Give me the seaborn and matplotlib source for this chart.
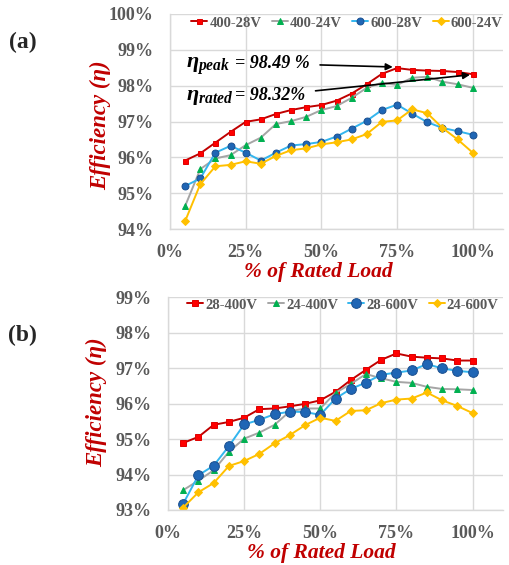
import matplotlib
matplotlib.use("Agg")
import matplotlib.pyplot as plt
import seaborn as sns
import numpy as np

# ---------------- data ----------------
load_pct = [5, 10, 15, 20, 25, 30, 35, 40, 45, 50, 55, 60, 65, 70, 75, 80, 85, 90, 95, 100]

# panel (a)
eff_a_400_28V = [95.91, 96.11, 96.41, 96.71, 96.99, 97.06, 97.21, 97.32, 97.40, 97.46,
                 97.58, 97.78, 98.04, 98.33, 98.49, 98.44, 98.42, 98.41, 98.38, 98.32]
eff_a_400_24V = [94.64, 95.67, 95.97, 96.06, 96.34, 96.55, 96.93, 97.01, 97.13, 97.32,
                 97.43, 97.66, 97.94, 98.08, 98.02, 98.22, 98.25, 98.11, 98.04, 97.94]
eff_a_600_28V = [95.20, 95.41, 96.13, 96.32, 96.13, 95.91, 96.13, 96.33, 96.37, 96.43,
                 96.58, 96.80, 97.02, 97.32, 97.47, 97.22, 96.98, 96.82, 96.73, 96.63]
eff_a_600_24V = [94.22, 95.25, 95.75, 95.79, 95.89, 95.82, 96.04, 96.20, 96.25, 96.36,
                 96.42, 96.50, 96.65, 96.99, 97.03, 97.34, 97.23, 96.82, 96.50, 96.13]
labels_a = ["400-28V", "400-24V", "600-28V", "600-24V"]

# panel (b)
eff_b_28_400V = [94.89, 95.06, 95.40, 95.48, 95.60, 95.84, 95.86, 95.92, 95.99, 96.09,
                 96.33, 96.66, 96.95, 97.23, 97.41, 97.32, 97.29, 97.27, 97.21, 97.21]
eff_b_24_400V = [93.56, 93.83, 94.12, 94.64, 95.01, 95.18, 95.40, 95.78, 95.86, 95.86,
                 96.30, 96.55, 96.83, 96.71, 96.61, 96.58, 96.47, 96.41, 96.40, 96.38]
eff_b_28_600V = [93.18, 93.98, 94.25, 94.80, 95.41, 95.54, 95.70, 95.77, 95.76, 95.68,
                 96.14, 96.41, 96.59, 96.81, 96.87, 96.93, 97.11, 96.99, 96.92, 96.88]
eff_b_24_600V = [93.07, 93.50, 93.76, 94.24, 94.38, 94.58, 94.88, 95.11, 95.39, 95.60,
                 95.51, 95.79, 95.81, 96.01, 96.11, 96.14, 96.31, 96.09, 95.93, 95.73]
labels_b = ["28-400V", "24-400V", "28-600V", "24-600V"]

x_ticks = [0, 25, 50, 75, 100]
y_ticks_a = [94, 95, 96, 97, 98, 99, 100]
y_ticks_b = [93, 94, 95, 96, 97, 98, 99]

eta_peak = 98.49
eta_rated = 98.32

# ---------------- style ----------------
sns.set_style("white")
plt.rcParams["font.family"] = ["Liberation Serif", "DejaVu Serif"]
plt.rcParams["mathtext.fontset"] = "custom"
plt.rcParams["mathtext.it"] = "Liberation Serif:italic:bold"
plt.rcParams["mathtext.rm"] = "Liberation Serif:bold"
plt.rcParams["mathtext.bf"] = "Liberation Serif:bold"

TICK_C = "#595959"
LABEL_C = "#C00000"
GRID_C = "#D9D9D9"

styles = [
    dict(color="#C00000", marker="s", markerfacecolor="#FF0000", markeredgecolor="#E00000"),
    dict(color="#A5A5A5", marker="^", markerfacecolor="#00B050", markeredgecolor="#00B050"),
    dict(color="#33B5EE", marker="o", markerfacecolor="#1F66B5", markeredgecolor="#1A4F8F"),
    dict(color="#FFC000", marker="D", markerfacecolor="#FFC000", markeredgecolor="#FFC000"),
]

W, H = 510, 565
fig = plt.figure(figsize=(W / 100, H / 100), dpi=100)

def px_axes(left, top, right, bottom):
    return fig.add_axes([left / W, 1 - bottom / H, (right - left) / W, (bottom - top) / H])

ax_a = px_axes(170, 14, 503, 229)
ax_b = px_axes(168, 297, 503, 510)


def draw(ax, series, labels, yticks, msizes):
    for vals, lab, st, ms in zip(series, labels, styles, msizes):
        sns.lineplot(x=load_pct, y=vals, ax=ax, linewidth=1.4, markersize=ms,
                     markeredgewidth=0.7, label=lab, **st)
    ax.set_xlim(0, 110)
    ax.set_ylim(yticks[0], yticks[-1])
    ax.set_xticks(x_ticks)
    ax.set_xticklabels([f"{v}%" for v in x_ticks])
    ax.set_yticks(yticks)
    ax.set_yticklabels([f"{v}%" for v in yticks])
    ax.grid(True, color=GRID_C, linewidth=1.0)
    ax.set_axisbelow(True)
    for s in ["top", "right"]:
        ax.spines[s].set_visible(False)
    for s in ["left", "bottom"]:
        ax.spines[s].set_color(GRID_C)
        ax.spines[s].set_linewidth(1.0)
    ax.tick_params(axis="both", length=0, labelsize=13, labelcolor=TICK_C)
    ax.tick_params(axis="x", pad=11)
    ax.tick_params(axis="y", pad=12)
    for t in ax.get_xticklabels() + ax.get_yticklabels():
        t.set_fontweight("bold")
    ax.set_xlabel("")
    ax.set_ylabel("")


draw(ax_a, [eff_a_400_28V, eff_a_400_24V, eff_a_600_28V, eff_a_600_24V], labels_a,
     y_ticks_a, [3.6, 4.6, 5.0, 3.6])
draw(ax_b, [eff_b_28_400V, eff_b_24_400V, eff_b_28_600V, eff_b_24_600V], labels_b,
     y_ticks_b, [4.2, 5.0, 7.0, 3.6])

for ax, cx, cy in [(ax_a, 347, 23), (ax_b, 343, 305)]:
    leg = ax.legend(loc="center", bbox_to_anchor=(cx / W, 1 - cy / H),
                    bbox_transform=fig.transFigure, ncol=4, frameon=False,
                    handlelength=1.1, handletextpad=0.15, columnspacing=0.7,
                    borderpad=0, prop=dict(family="Liberation Serif", weight="bold", size=10.5))
    for t in leg.get_texts():
        t.set_color(TICK_C)

# axis labels
ylab_kw = dict(color=LABEL_C, fontsize=16.5, fontweight="bold", fontstyle="italic",
               ha="center", va="center")
xlab_kw = dict(ylab_kw, fontsize=15.5)
fig.text(101 / W, 1 - 125 / H, "Efficiency (η)", rotation=90, **ylab_kw)
fig.text(97 / W, 1 - 402 / H, "Efficiency (η)", rotation=90, **ylab_kw)
fig.text(318 / W, 1 - 272 / H, "% of Rated Load", **xlab_kw)
fig.text(321 / W, 1 - 553 / H, "% of Rated Load", **xlab_kw)

fig.text(9 / W, 1 - 42 / H, "(a)", fontsize=17, fontweight="bold", ha="left", va="center")
fig.text(8 / W, 1 - 335 / H, "(b)", fontsize=17, fontweight="bold", ha="left", va="center")

# annotations: symbol part and value part (value part carries the arrow)
sym_kw = dict(fontsize=16, fontweight="bold", fontstyle="italic", color="black",
              ha="left", va="baseline")
ann_kw = dict(fontsize=13, fontweight="bold", fontstyle="italic", color="black",
              ha="left", va="baseline",
              arrowprops=dict(arrowstyle="-|>", color="black", lw=1.2,
                              mutation_scale=10, shrinkA=5, shrinkB=2))
ax_a.text(5.3, 98.49, r"$\eta_{peak}$", **sym_kw)
ax_a.annotate(f"= {eta_peak:.2f} %", xy=(74.5, eta_peak + 0.03),
              xytext=(21.5, 98.49), **ann_kw)
ax_a.text(5.3, 97.60, r"$\eta_{rated}$", **sym_kw)
ax_a.annotate(f"= {eta_rated:.2f}%", xy=(100, eta_rated - 0.01),
              xytext=(21.5, 97.60), **ann_kw)

fig.savefig("out.png", dpi=100)
